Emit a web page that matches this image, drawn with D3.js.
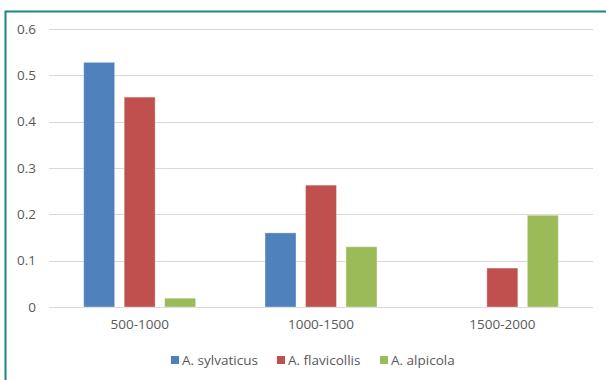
<!DOCTYPE html>
<html>
<head>
<meta charset="utf-8">
<script src="https://cdn.jsdelivr.net/npm/d3@7"></script>
<style>
  body { margin: 0; background: #fff; }
  svg { display: block; font-family: "Open Sans", sans-serif; }
</style>
</head>
<body>
<div id="chart"></div>
<script>
// altitude bands and the three species
var categories = ["500-1000", "1000-1500", "1500-2000"];
var series = ["A. sylvaticus", "A. flavicollis", "A. alpicola"];
var sylvaticus = [0.528, 0.16, 0];
var flavicollis = [0.453, 0.263, 0.084];
var alpicola = [0.019, 0.13, 0.198];
var yTicks = [0, 0.1, 0.2, 0.3, 0.4, 0.5, 0.6];
var colours = ["#4f81bd", "#c0504d", "#9bbb59"];

var values = [sylvaticus, flavicollis, alpicola];

var w = 606, h = 380;
var plotLeft = 49, plotRight = 593, plotTop = 29, plotBottom = 307;
var fontSize = "13.5px";

var svg = d3.select("#chart").append("svg")
    .attr("width", w)
    .attr("height", h);

// teal frame, only top and left show in the picture
svg.append("rect")
    .attr("x", 5.5)
    .attr("y", 11.5)
    .attr("width", w + 20)
    .attr("height", h + 20)
    .attr("fill", "none")
    .attr("stroke", "#1b8580")
    .attr("stroke-width", 2);

var x0 = d3.scaleBand()
    .domain(categories)
    .range([plotLeft, plotRight])
    .paddingInner(0)
    .paddingOuter(0);

var x1 = d3.scaleBand()
    .domain(series)
    .range([0, x0.bandwidth()])
    .paddingInner(0.235)
    .paddingOuter(0.857);

var y = d3.scaleLinear()
    .domain([0, 0.6])
    .range([plotBottom, plotTop]);

// grid lines
svg.append("g")
    .selectAll("line")
    .data(yTicks)
    .enter()
    .append("line")
    .attr("x1", plotLeft)
    .attr("x2", plotRight)
    .attr("y1", function(d) { return Math.round(y(d)) + 0.5; })
    .attr("y2", function(d) { return Math.round(y(d)) + 0.5; })
    .attr("stroke", "#d9d9d9")
    .attr("stroke-width", 1);

// y axis labels
var yAxis = d3.axisLeft(y)
    .tickValues(yTicks)
    .tickSize(0)
    .tickPadding(13)
    .tickFormat(function(d) { return d === 0 ? "0" : d3.format(".1f")(d); });

var yg = svg.append("g")
    .attr("transform", "translate(" + plotLeft + ",0)")
    .call(yAxis);
yg.select(".domain").remove();
yg.selectAll("text")
    .attr("fill", "#595959")
    .style("font-size", fontSize)
    .style("font-family", "Open Sans, sans-serif");

// bars
var groups = svg.append("g")
    .selectAll("g")
    .data(categories)
    .enter()
    .append("g")
    .attr("transform", function(d) { return "translate(" + x0(d) + ",0)"; });

groups.selectAll("rect")
    .data(function(d, i) {
        return series.map(function(s, j) { return { s: s, v: values[j][i], c: colours[j] }; });
    })
    .enter()
    .append("rect")
    .filter(function(d) { return d.v > 0; })
    .attr("x", function(d) { return x1(d.s); })
    .attr("y", function(d) { return y(d.v); })
    .attr("width", x1.bandwidth())
    .attr("height", function(d) { return y(0) - y(d.v); })
    .attr("fill", function(d) { return d.c; })
    .attr("stroke", "rgba(255,255,255,0.35)")
    .attr("stroke-width", 1);

// x axis labels
var xAxis = d3.axisBottom(x0).tickSize(0).tickPadding(12);
var xg = svg.append("g")
    .attr("transform", "translate(0," + plotBottom + ")")
    .call(xAxis);
xg.select(".domain").remove();
xg.selectAll("text")
    .attr("fill", "#595959")
    .style("font-size", fontSize)
    .style("font-family", "Open Sans, sans-serif");

// legend
var legendX = [171, 277, 380];
var legend = svg.append("g")
    .selectAll("g")
    .data(series)
    .enter()
    .append("g")
    .attr("transform", function(d, i) { return "translate(" + legendX[i] + ",360)"; });

legend.append("rect")
    .attr("x", 0)
    .attr("y", -4)
    .attr("width", 8)
    .attr("height", 8)
    .attr("fill", function(d, i) { return colours[i]; });

legend.append("text")
    .attr("x", 11)
    .attr("y", 0)
    .attr("dy", "0.35em")
    .attr("fill", "#595959")
    .style("font-size", fontSize)
    .text(function(d) { return d; });
</script>
</body>
</html>
